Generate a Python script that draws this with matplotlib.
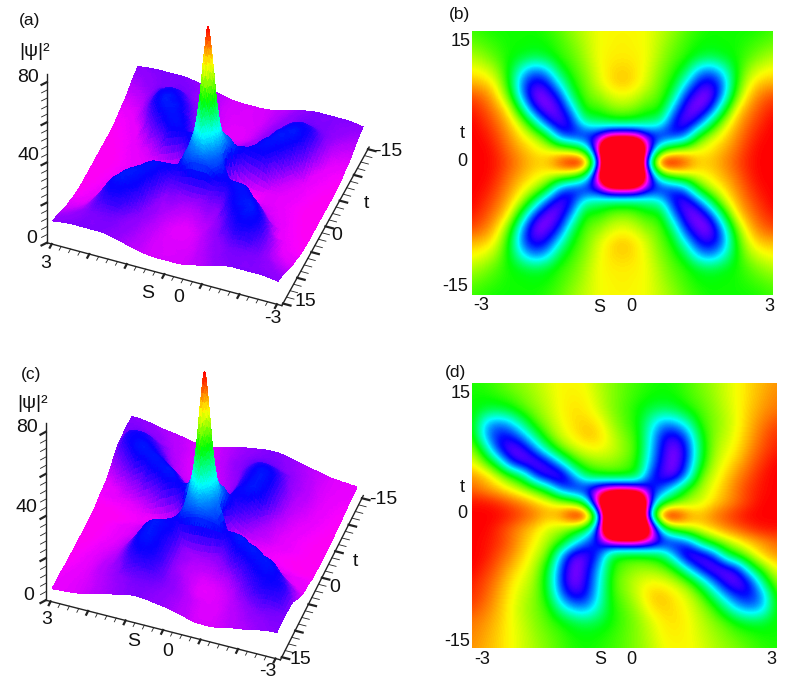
"""Rogue wave intensity: surface views (a, c) and density maps (b, d)."""

import matplotlib

matplotlib.use("Agg")

import matplotlib.pyplot as plt
import matplotlib.tri as mtri
import numpy as np
from matplotlib.colors import ListedColormap

W, H = 795, 684
plt.rcParams["font.family"] = ["Liberation Sans", "DejaVu Sans"]

# grid of the density maps, hue (0 red ... 1 red again)
S_NODES = np.arange(-3, 3.01, 0.25)
T_NODES = np.arange(-15, 15.01, 1.5)

# panel b: mirror symmetric, quarter with s = 0..3 (columns), t = 0..15 (rows)
HUE_B = [
    [1.7, 1.7, 0.45, -0.06, -0.06, 0.03, 0.13, 0.13, 0.10, 0.06, 0.02, 0.0, 0.0],
    [1.8, 1.8, 0.85, 0.38, 0.26, 0.21, 0.18, 0.16, 0.12, 0.08, 0.03, 0.0, 0.0],
    [0.90, 0.88, 0.72, 0.70, 0.68, 0.62, 0.33, 0.21, 0.16, 0.10, 0.05, 0.01, 0.0],
    [0.37, 0.38, 0.42, 0.45, 0.68, 0.76, 0.66, 0.42, 0.22, 0.13, 0.07, 0.03, 0.0],
    [0.24, 0.26, 0.31, 0.31, 0.56, 0.74, 0.78, 0.68, 0.40, 0.17, 0.10, 0.05, 0.02],
    [0.18, 0.20, 0.25, 0.28, 0.40, 0.66, 0.76, 0.78, 0.58, 0.28, 0.14, 0.08, 0.05],
    [0.13, 0.15, 0.20, 0.27, 0.33, 0.50, 0.68, 0.72, 0.62, 0.34, 0.19, 0.13, 0.12],
    [0.14, 0.15, 0.19, 0.25, 0.30, 0.37, 0.54, 0.60, 0.50, 0.35, 0.24, 0.19, 0.17],
    [0.16, 0.16, 0.18, 0.23, 0.28, 0.31, 0.36, 0.38, 0.36, 0.33, 0.29, 0.25, 0.22],
    [0.16, 0.17, 0.18, 0.22, 0.26, 0.30, 0.33, 0.34, 0.33, 0.33, 0.31, 0.29, 0.27],
    [0.17, 0.17, 0.18, 0.21, 0.24, 0.28, 0.31, 0.33, 0.33, 0.33, 0.33, 0.32, 0.30],
]

# panel d: point symmetric, upper half with s = -3..3 (columns), t = 0..15 (rows)
HUE_D = [
    [0, 0, 0, .02, .05, .08, .12, .08, -.05, -.06, .38, 1.7, 1.7, 1.7, .38, -.06, -.05, .08, .12, .08, .05, .02, 0, 0, 0],
    [.01, .01, .03, .06, .09, .13, .16, .20, .26, .42, 1.05, 1.8, 1.8, 1.8, .70, .38, .28, .23, .20, .15, .11, .07, .03, 0, 0],
    [.07, .10, .13, .17, .22, .28, .40, .62, .70, .72, .82, .85, .85, .80, .70, .62, .47, .30, .23, .17, .12, .07, .03, .01, 0],
    [.10, .13, .20, .30, .40, .66, .76, .78, .58, .38, .33, .31, .31, .35, .64, .74, .76, .56, .27, .20, .14, .09, .05, .01, 0],
    [.17, .26, .40, .66, .76, .78, .70, .52, .33, .26, .24, .24, .27, .32, .55, .72, .78, .64, .36, .22, .17, .12, .07, .03, 0],
    [.23, .40, .66, .77, .74, .60, .42, .27, .21, .18, .17, .20, .24, .30, .52, .70, .78, .66, .38, .24, .19, .15, .09, .05, .02],
    [.30, .56, .68, .68, .58, .42, .27, .20, .16, .13, .14, .20, .26, .31, .50, .68, .72, .60, .36, .25, .21, .16, .11, .06, .03],
    [.32, .54, .60, .55, .42, .29, .23, .18, .15, .14, .16, .23, .28, .33, .46, .58, .56, .46, .31, .26, .22, .17, .12, .08, .05],
    [.33, .37, .38, .35, .29, .25, .21, .17, .15, .16, .20, .25, .29, .33, .38, .40, .38, .33, .29, .25, .21, .17, .13, .10, .08],
    [.33, .33, .31, .29, .26, .23, .20, .17, .16, .17, .21, .25, .28, .31, .33, .34, .33, .30, .27, .24, .20, .17, .14, .11, .09],
    [.32, .31, .29, .26, .24, .22, .19, .17, .17, .18, .22, .25, .28, .30, .32, .33, .32, .29, .26, .23, .20, .17, .14, .12, .10],
]

# height of the central peak, finer nodes: s (columns) and t (rows), one quarter
PEAK_S = [0, 0.1, 0.2, 0.3, 0.4]
PEAK_T = [0, 0.6, 1.2, 1.8, 2.4]
PEAK_Z = [
    [84, 70, 50, 36, 27],
    [72, 60, 44, 33, 27],
    [52, 45, 36, 29, 26],
    [36, 32, 29, 27, 25],
    [28, 27, 26, 25, 24],
]
PEAK_LEAN = {"a": 0.0, "c": -0.02}  # s shift per unit t in panel c

# colour key of the maps, read against the height ticks
KEY_HUE = [-0.1, 0.0, 0.17, 0.33, 0.5, 0.75, 1.0]
KEY_Z = [1.0, 3.0, 6.0, 11.5, 16.0, 20.0, 26.0]
Z_TOP = 84.0


def full_b():
    q = np.array(HUE_B)
    upper = np.hstack([q[:, :0:-1], q])
    return np.vstack([upper[:0:-1], upper])


def full_d():
    upper = np.array(HUE_D, dtype=float)
    return np.vstack([upper[:0:-1, ::-1], upper])


def fig_box(x0, y0, x1, y1):
    return [x0 / W, 1 - y1 / H, (x1 - x0) / W, (y1 - y0) / H]


def label(x, y, s, size=14):
    fig.text(x / W, 1 - y / H, s, ha="center", va="center", fontsize=size, color="#111111")


def density(box, hue):
    ax = fig.add_axes(fig_box(*box))
    ds, dt = S_NODES[1] - S_NODES[0], T_NODES[1] - T_NODES[0]
    ax.imshow(
        hue,
        origin="lower",
        aspect="auto",
        cmap="hsv",
        vmin=0,
        vmax=1,
        interpolation="bicubic",
        extent=(S_NODES[0] - ds / 2, S_NODES[-1] + ds / 2, T_NODES[0] - dt / 2, T_NODES[-1] + dt / 2),
    )
    ax.set_xlim(-3, 3)
    ax.set_ylim(-15, 15)
    ax.set_axis_off()


def surface(pos, elev, azim, aspect, hue, lean, s_edge, t_edge):
    ax = fig.add_axes(pos, projection="3d")
    ax.patch.set_visible(False)
    ax.set_proj_type("ortho")
    ax.view_init(elev=elev, azim=azim)
    ax.set_box_aspect(aspect)
    ax.computed_zorder = False

    ss, tt = np.meshgrid(S_NODES, T_NODES)
    keep = ~((np.abs(ss) < 0.5) & (np.abs(tt) < 3))
    s_pts, t_pts = list(ss[keep]), list(tt[keep])
    z_pts = list(np.interp(hue[keep], KEY_HUE, KEY_Z))
    for i, t in enumerate(PEAK_T):
        for j, s in enumerate(PEAK_S):
            for sx, tx in {(s, t), (-s, t), (s, -t), (-s, -t)}:
                s_pts.append(sx + lean * tx)
                t_pts.append(tx)
                z_pts.append(PEAK_Z[i][j])
    s_pts, t_pts, z_pts = np.array(s_pts), np.array(t_pts), np.array(z_pts)

    tr = mtri.Triangulation(s_pts, t_pts / 5)
    interp = mtri.CubicTriInterpolator(tr, z_pts, kind="geom")
    tr_fine, z_fine = mtri.UniformTriRefiner(tr).refine_field(z_pts, triinterpolator=interp, subdiv=2)
    tr_plot = mtri.Triangulation(tr_fine.x, tr_fine.y * 5, tr_fine.triangles)
    ax.plot_trisurf(
        tr_plot,
        np.clip(z_fine, 0, Z_TOP),
        cmap=Z_CMAP,
        vmin=0,
        vmax=Z_TOP,
        linewidth=0,
        antialiased=False,
        zorder=1,
    )

    # box edges sit a little outside the surface, as in the picture
    lines = {"color": "#222222", "zorder": 5}
    ax.plot([s_edge, -s_edge], [t_edge, t_edge], [0, 0], lw=1, **lines)
    ax.plot([-s_edge, -s_edge], [t_edge, -t_edge], [0, 0], lw=1, **lines)
    ax.plot([s_edge, s_edge], [t_edge, t_edge], [0, Z_TOP], lw=1, **lines)
    for s in np.arange(-3, 3.01, 0.25):
        big = abs(s - round(s)) < 0.01
        ax.plot([s, s], [t_edge, t_edge + 0.7], [0, 0], lw=1.6 if big else 0.6, **lines)
    for t in np.arange(-15, 15.01, 1.25):
        big = abs(t / 5 - round(t / 5)) < 0.01
        ax.plot([-s_edge, -s_edge - 0.2], [t, t], [0, 0], lw=1.6 if big else 0.6, **lines)
    for z in np.arange(0, 81, 4):
        big = z % 20 == 0
        ax.plot([s_edge, s_edge + 0.09], [t_edge, t_edge + 0.7], [z, z], lw=1.6 if big else 0.6, **lines)

    ax.set_xlim(-3, 3)
    ax.set_ylim(-15, 15)
    ax.set_zlim(0, Z_TOP)
    ax.set_axis_off()


Z_CMAP = ListedColormap(plt.cm.hsv(np.linspace(0.88, 0.0, 256)))

fig = plt.figure(figsize=(W / 100, H / 100), dpi=100)

hue_b, hue_d = full_b(), full_d()

surface([2.6 / W, 368 / H, 400 / W, 400 / H], 44.2, 111.0, (241, 237, 235), hue_b, PEAK_LEAN["a"], 3.13, 15.4)
surface([-5 / W, 15 / H, 408 / W, 408 / H], 45.2, 109.7, (239, 238, 251), hue_d, PEAK_LEAN["c"], 3.13, 15.5)
density((472, 31, 773, 295), hue_b)
density((472, 383, 777, 648), hue_d)

for x, y, s, size in [
    (30, 21, "(a)", 12.5), (35, 52, "|ψ|²", 14), (28, 78, "80", 14), (28, 156, "40", 14),
    (32, 239, "0", 14), (46, 264, "3", 14), (148, 293, "S", 14), (179, 297, "0", 14),
    (273, 319, "-3", 14), (305, 301, "15", 14), (337, 236, "0", 14), (366, 203, "t", 14),
    (388, 152, "-15", 14),
    (31, 375, "(c)", 12.5), (33, 403, "|ψ|²", 14), (27, 427, "80", 14), (26, 507, "40", 14),
    (29, 595, "0", 14), (47, 619, "3", 14), (134, 642, "S", 14), (168, 652, "0", 14),
    (268, 672, "-3", 14), (300, 660, "15", 14), (335, 587, "0", 14), (355, 562, "t", 14),
    (383, 499, "-15", 14),
    (460, 15, "(b)", 12.5), (461, 42, "15", 13), (462, 133, "t", 13), (462, 161, "0", 13),
    (455, 287, "-15", 13), (481, 305, "-3", 13), (599, 307, "S", 13), (631, 306, "0", 13),
    (769, 306, "3", 13),
    (455, 372, "(d)", 12.5), (461, 393, "15", 13), (462, 487, "t", 13), (462, 513, "0", 13),
    (457, 642, "-15", 13), (482, 659, "-3", 13), (600, 660, "S", 13), (631, 659, "0", 13),
    (771, 659, "3", 13),
]:
    label(x, y, s, size)

fig.savefig("out.png", dpi=100)
